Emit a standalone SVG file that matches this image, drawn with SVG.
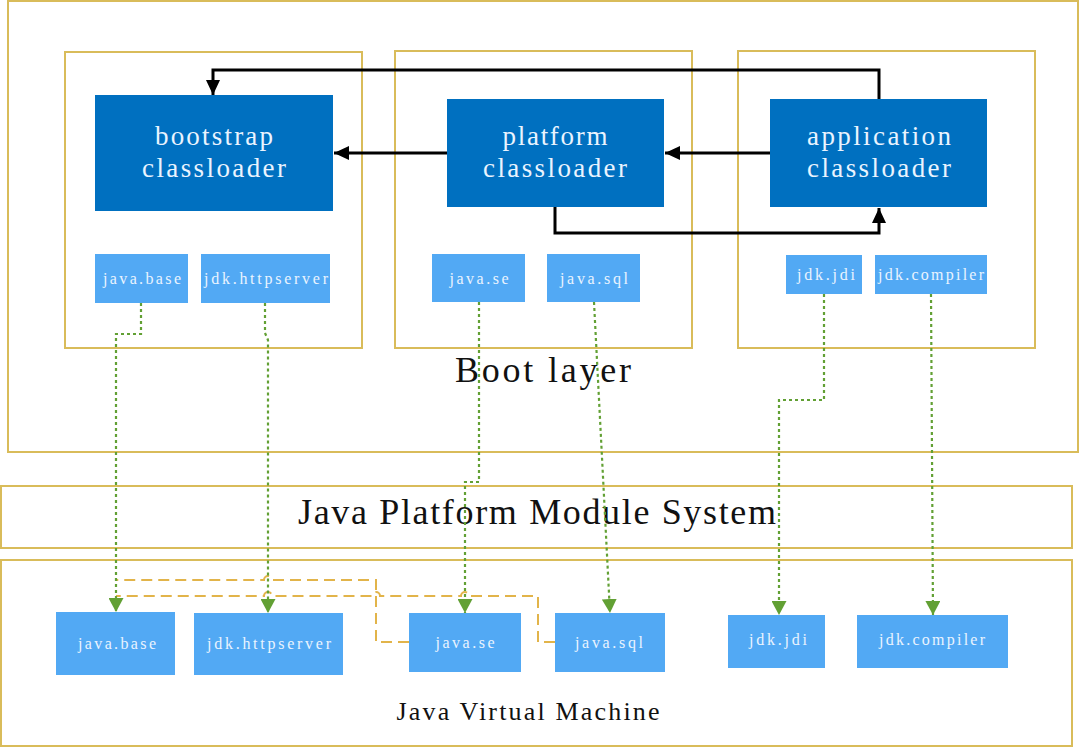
<svg xmlns="http://www.w3.org/2000/svg" width="1080" height="748" viewBox="0 0 1080 748">
<defs>
<style>
.frame{fill:none;stroke:#D9BC5A;stroke-width:2}
.cl{fill:#0070C0}
.mod{fill:#52A9F4}
.clt{font-family:"Liberation Serif",serif;font-size:27px;fill:#EAF4FF;text-anchor:middle}
.mt{font-family:"Liberation Serif",serif;font-size:16px;fill:#EAF4FF;text-anchor:middle}
.big{font-family:"Liberation Serif",serif;font-size:36px;fill:#111;text-anchor:middle}
.mid{font-family:"Liberation Serif",serif;font-size:26px;fill:#111;text-anchor:middle}
.blk{fill:none;stroke:#000;stroke-width:3}
.grn{fill:none;stroke:#62A034;stroke-width:2.2;stroke-dasharray:3 3}
.org{fill:none;stroke:#E2B44A;stroke-width:2;stroke-dasharray:11 6}
</style>
<marker id="ab" markerUnits="userSpaceOnUse" markerWidth="16" markerHeight="16" viewBox="0 0 16 16" refX="15" refY="8" orient="auto">
<path d="M0,1 L15,8 L0,15 Z" fill="#000"/>
</marker>
<marker id="ag" markerUnits="userSpaceOnUse" markerWidth="15" markerHeight="15" viewBox="0 0 15 15" refX="14" refY="7.5" orient="auto">
<path d="M0,0 L14,7.5 L0,15 Z" fill="#62A034"/>
</marker>
</defs>
<rect width="1080" height="748" fill="#fff"/>

<g id="boot-layer">
<rect class="frame" x="8" y="1" width="1070" height="451"/>
<text class="big" x="543" y="382" textLength="176" lengthAdjust="spacing">Boot layer</text>
</g>
<g id="jpms">
<rect class="frame" x="1" y="486" width="1071" height="62"/>
<text class="big" x="537" y="524" textLength="478" lengthAdjust="spacing">Java Platform Module System</text>
</g>
<g id="jvm">
<rect class="frame" x="1" y="560" width="1071" height="186"/>
<text class="mid" x="528" y="720" textLength="263" lengthAdjust="spacing">Java Virtual Machine</text>
</g>

<g id="bootstrap-group">
<rect class="frame" x="65" y="52" width="297" height="296"/>
</g>
<g id="platform-group">
<rect class="frame" x="395" y="51" width="297" height="297"/>
</g>
<g id="application-group">
<rect class="frame" x="738" y="51" width="297" height="297"/>
</g>

<g id="bootstrap">
<rect class="cl" x="95" y="95" width="238" height="116"/>
<text class="clt" x="214" y="145" textLength="118" lengthAdjust="spacing">bootstrap</text>
<text class="clt" x="214" y="177" textLength="144" lengthAdjust="spacing">classloader</text>
</g>
<g id="platform">
<rect class="cl" x="447" y="99" width="217" height="108"/>
<text class="clt" x="555" y="145" textLength="105" lengthAdjust="spacing">platform</text>
<text class="clt" x="555" y="177" textLength="144" lengthAdjust="spacing">classloader</text>
</g>
<g id="application">
<rect class="cl" x="770" y="99" width="217" height="108"/>
<text class="clt" x="879" y="145" textLength="144" lengthAdjust="spacing">application</text>
<text class="clt" x="879" y="177" textLength="144" lengthAdjust="spacing">classloader</text>
</g>

<g id="top-java-base">
<rect class="mod" x="95" y="254" width="93" height="49"/>
<text class="mt" x="142" y="284" textLength="78" lengthAdjust="spacing">java.base</text>
</g>
<g id="top-jdk-httpserver">
<rect class="mod" x="201" y="254" width="129" height="49"/>
<text class="mt" x="266" y="284" textLength="124" lengthAdjust="spacing">jdk.httpserver</text>
</g>
<g id="top-java-se">
<rect class="mod" x="432" y="254" width="93" height="48"/>
<text class="mt" x="479" y="284" textLength="59" lengthAdjust="spacing">java.se</text>
</g>
<g id="top-java-sql">
<rect class="mod" x="547" y="254" width="93" height="48"/>
<text class="mt" x="594" y="284" textLength="68" lengthAdjust="spacing">java.sql</text>
</g>
<g id="top-jdk-jdi">
<rect class="mod" x="786" y="255" width="76" height="39"/>
<text class="mt" x="826" y="280" textLength="58" lengthAdjust="spacing">jdk.jdi</text>
</g>
<g id="top-jdk-compiler">
<rect class="mod" x="875" y="255" width="112" height="39"/>
<text class="mt" x="931" y="280" textLength="106" lengthAdjust="spacing">jdk.compiler</text>
</g>

<g id="jvm-java-base">
<rect class="mod" x="56" y="612" width="119" height="63"/>
<text class="mt" x="117" y="649" textLength="78" lengthAdjust="spacing">java.base</text>
</g>
<g id="jvm-jdk-httpserver">
<rect class="mod" x="194" y="613" width="149" height="62"/>
<text class="mt" x="269" y="649" textLength="124" lengthAdjust="spacing">jdk.httpserver</text>
</g>
<g id="jvm-java-se">
<rect class="mod" x="409" y="613" width="112" height="59"/>
<text class="mt" x="465" y="648" textLength="59" lengthAdjust="spacing">java.se</text>
</g>
<g id="jvm-java-sql">
<rect class="mod" x="555" y="613" width="110" height="59"/>
<text class="mt" x="609" y="648" textLength="68" lengthAdjust="spacing">java.sql</text>
</g>
<g id="jvm-jdk-jdi">
<rect class="mod" x="728" y="615" width="97" height="53"/>
<text class="mt" x="778" y="645" textLength="58" lengthAdjust="spacing">jdk.jdi</text>
</g>
<g id="jvm-jdk-compiler">
<rect class="mod" x="857" y="615" width="151" height="53"/>
<text class="mt" x="932" y="645" textLength="106" lengthAdjust="spacing">jdk.compiler</text>
</g>

<g id="connectors">
<path class="blk" d="M879,99 V70 H213 V95" marker-end="url(#ab)"/>
<path class="blk" d="M447,153 H334" marker-end="url(#ab)"/>
<path class="blk" d="M770,153 H665" marker-end="url(#ab)"/>
<path class="blk" d="M555,207 V233 H879 V208" marker-end="url(#ab)"/>

<path class="org" d="M409,642 H376 V580 H272 A4,4 0 0 0 264,580 H116"/>
<path class="org" d="M555,642 H538 V596 H469 A4,4 0 0 0 461,596 H380 A4,4 0 0 0 372,596 H272 A4,4 0 0 0 264,596 H116"/>

<path class="grn" d="M141,303 V334 H116 V612" marker-end="url(#ag)"/>
<path class="grn" d="M265,303 V333 L268,340 V613" marker-end="url(#ag)"/>
<path class="grn" d="M479,302 V482 H465 V613" marker-end="url(#ag)"/>
<path class="grn" d="M594,302 L610,613" marker-end="url(#ag)"/>
<path class="grn" d="M824,294 V400 H779 V615" marker-end="url(#ag)"/>
<path class="grn" d="M931,294 L933,615" marker-end="url(#ag)"/>
</g>
</svg>
